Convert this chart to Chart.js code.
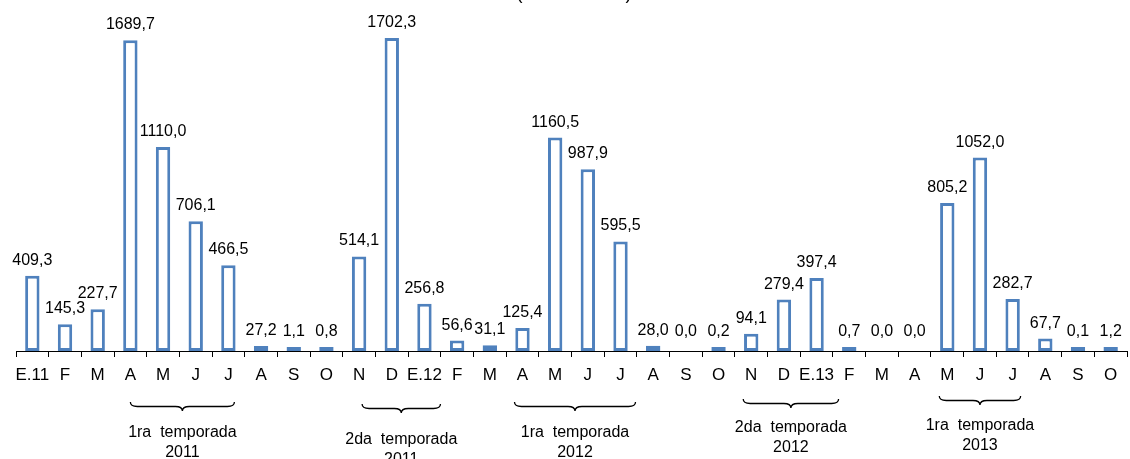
<!DOCTYPE html>
<html>
<head>
<meta charset="utf-8">
<script src="https://cdn.jsdelivr.net/npm/chart.js@4"></script>
<style>
    html, body { margin: 0; padding: 0; background: #ffffff; }
    #wrap { width: 1130px; height: 459px; }
</style>
</head>
<body>
<div id="wrap"><canvas id="grafico"></canvas></div>
<script>
// categorias (meses)
const meses = ['E.11', 'F', 'M', 'A', 'M', 'J', 'J', 'A', 'S', 'O', 'N', 'D',
    'E.12', 'F', 'M', 'A', 'M', 'J', 'J', 'A', 'S', 'O', 'N', 'D',
    'E.13', 'F', 'M', 'A', 'M', 'J', 'J', 'A', 'S', 'O'];

const valores = [409.3, 145.3, 227.7, 1689.7, 1110.0, 706.1, 466.5, 27.2, 1.1, 0.8, 514.1, 1702.3,
    256.8, 56.6, 31.1, 125.4, 1160.5, 987.9, 595.5, 28.0, 0.0, 0.2, 94.1, 279.4,
    397.4, 0.7, 0.0, 0.0, 805.2, 1052.0, 282.7, 67.7, 0.1, 1.2];

// temporadas: texto e indice inicial/final da chave
const temporadasTexto = [['1ra  temporada', '2011'], ['2da  temporada', '2011'], ['1ra  temporada', '2012'],
    ['2da  temporada', '2012'], ['1ra  temporada', '2013']];
const temporadasInicio = [3, 10, 15, 22, 28];
const temporadasFim = [6, 12, 18, 24, 30];

// ajustes de desenho das chaves (px)
const chaveLayout = [
    { dx1: 0, dx2: 6, y: 402, ty: 437 },
    { dx1: 3, dx2: 16, y: 404, ty: 444 },
    { dx1: -8, dx2: 15, y: 402, ty: 437 },
    { dx1: -8, dx2: 22, y: 399, ty: 432 },
    { dx1: -8, dx2: 8, y: 396, ty: 430 }
];

const fonte = 'Liberation Sans, Arial, sans-serif';

function formatar(v) {
    return v.toFixed(1).replace('.', ',');
}

function desenharChave(ctx, x1, x2, y, h) {
    const mid = (x1 + x2) / 2;
    const r = 7;
    const ym = y + h / 2;
    ctx.beginPath();
    ctx.moveTo(x1, y);
    ctx.quadraticCurveTo(x1, ym, x1 + r, ym);
    ctx.lineTo(mid - r, ym);
    ctx.quadraticCurveTo(mid, ym, mid, y + h);
    ctx.quadraticCurveTo(mid, ym, mid + r, ym);
    ctx.lineTo(x2 - r, ym);
    ctx.quadraticCurveTo(x2, ym, x2, y);
    ctx.stroke();
}

const rotulos = {
    id: 'rotulos',
    afterDatasetsDraw(chart) {
        const ctx = chart.ctx;
        const meta = chart.getDatasetMeta(0);
        ctx.save();
        ctx.fillStyle = '#000000';
        ctx.font = '16px ' + fonte;
        ctx.textAlign = 'center';
        ctx.textBaseline = 'alphabetic';
        meta.data.forEach((bar, i) => {
            const topo = Math.min(bar.y, chart.scales.y.getPixelForValue(0) - 4);
            ctx.fillText(formatar(valores[i]), bar.x, topo - 11);
        });

        // titulo cortado no topo
        ctx.font = '18px ' + fonte;
        ctx.fillText('(en toneladas)', 574, -1);

        // chaves das temporadas
        const x = chart.scales.x;
        ctx.strokeStyle = '#000000';
        ctx.lineWidth = 1.3;
        ctx.font = '16px ' + fonte;
        temporadasTexto.forEach((linhas, k) => {
            const lay = chaveLayout[k];
            const x1 = x.getPixelForValue(temporadasInicio[k]) + lay.dx1;
            const x2 = x.getPixelForValue(temporadasFim[k]) + lay.dx2;
            desenharChave(ctx, x1, x2, lay.y, 9);
            const cx = (x1 + x2) / 2;
            ctx.fillText(linhas[0], cx, lay.ty);
            ctx.fillText(linhas[1], cx, lay.ty + 20);
        });
        ctx.restore();
    }
};

document.addEventListener('DOMContentLoaded', function () {
    const ctx = document.getElementById('grafico').getContext('2d');

    new Chart(ctx, {
        type: 'bar',
        data: {
            labels: meses,
            datasets: [{
                data: valores,
                backgroundColor: '#ffffff',
                borderColor: (c) => (valores[c.dataIndex] === 0 ? 'rgba(0,0,0,0)' : '#4f81bd'),
                borderWidth: 3,
                borderSkipped: false,
                minBarLength: 4,
                barPercentage: 0.44,
                categoryPercentage: 1.0
            }]
        },
        options: {
            responsive: true,
            maintainAspectRatio: false,
            animation: false,
            layout: { padding: { left: 16, right: 3, top: 20, bottom: 0 } },
            plugins: {
                legend: { display: false },
                tooltip: { enabled: false },
                title: { display: false }
            },
            scales: {
                y: {
                    display: false,
                    min: 0,
                    max: 1800
                },
                x: {
                    afterFit: (scale) => { scale.height = 108; },
                    grid: {
                        display: true,
                        drawOnChartArea: false,
                        offset: true,
                        tickLength: 6,
                        color: '#000000',
                        lineWidth: 1
                    },
                    border: { display: true, color: '#000000', width: 1 },
                    ticks: {
                        color: '#000000',
                        font: { family: fonte, size: 17 },
                        autoSkip: false,
                        maxRotation: 0,
                        padding: 8
                    }
                }
            }
        },
        plugins: [rotulos]
    });
});
</script>
</body>
</html>
